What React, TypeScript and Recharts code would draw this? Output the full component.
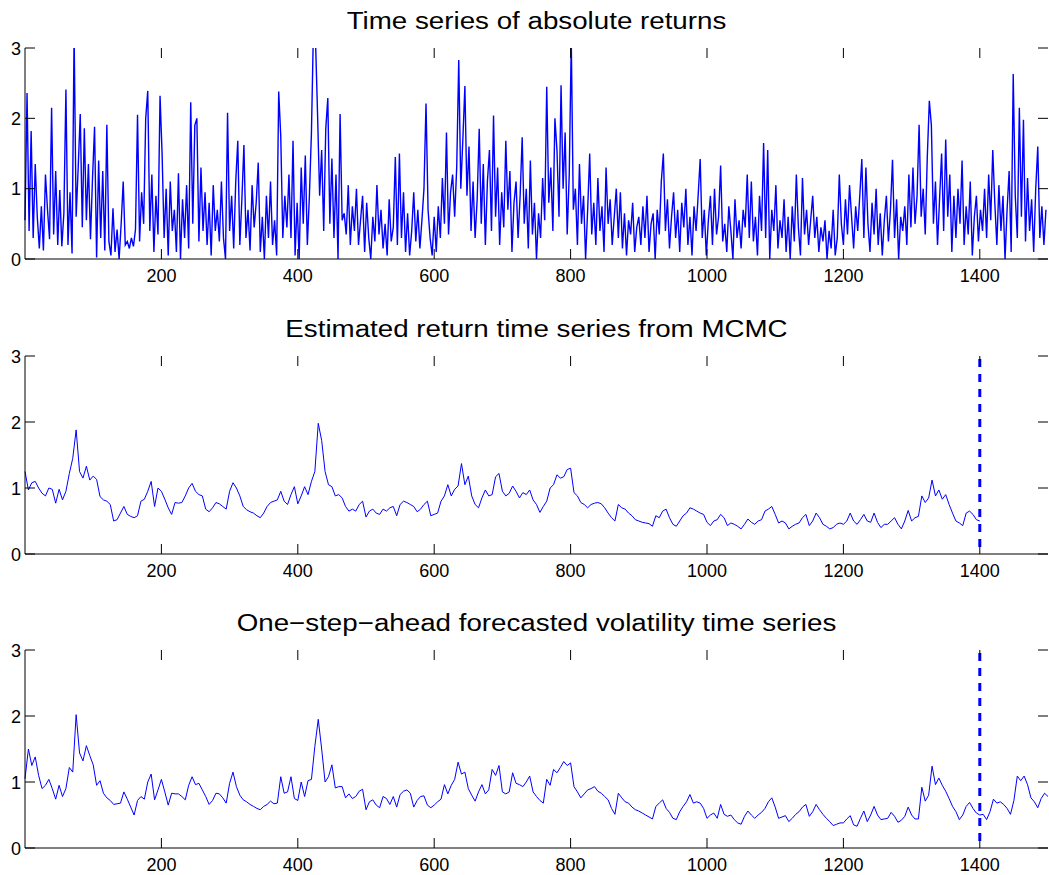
import { LineChart, Line, XAxis, YAxis, ReferenceLine } from "recharts";

// x positions of the samples (time index)
const ABS_STEP = 3;
const SMOOTH_STEP = 5;

const xTicks = [200, 400, 600, 800, 1000, 1200, 1400];
const yTicks = [0, 1, 2, 3];

const titles = [
  "Time series of absolute returns",
  "Estimated return time series from MCMC",
  "One\u2212step\u2212ahead forecasted volatility time series",
];

// |returns|, one value every 3 steps
const absReturns = [
  0.55, 2.36, 0.4, 1.82, 0.3, 1.35, 0.6, 0.15, 0.75, 0.12,
  1.2, 0.7, 0.28, 2.15, 0.35, 1.25, 0.2, 0.98, 0.18, 0.65,
  2.41, 0.2, 0.95, 0.08, 3.2, 0.6, 1.3, 2.06, 0.45, 1.86,
  0.55, 1.35, 0.28, 1.15, 1.88, 0.02, 1.4, 0.3, 1.25, 0.12,
  1.91, 0.25, 0.05, 0.72, 0.1, 0.42, 0.0, 0.5, 1.1, 0.2,
  0.25, 0.15, 0.3, 0.18, 0.42, 2.05, 0.25, 0.95, 0.5, 2.0,
  2.39, 0.4, 1.2, 0.1, 0.9, 0.35, 2.32, 1.5, 0.3, 1.0,
  0.05, 1.1, 0.4, 0.7, 0.1, 1.22, 0.0, 0.85, 0.3, 1.05,
  0.15, 2.23, 0.5, 1.9, 2.0, 0.25, 1.3, 0.4, 0.95, 0.2,
  0.8, 0.05, 1.05, 0.4, 0.7, 0.25, 1.1, 0.3, 0.0, 2.08,
  0.4, 0.9, 0.15, 1.1, 1.68, 0.2, 0.85, 1.62, 0.3, 0.7,
  0.12, 1.05, 0.45, 0.8, 1.37, 0.1, 0.6, 0.0, 0.9, 0.3,
  1.1, 0.2, 0.55, 0.05, 2.38, 1.75, 0.3, 0.9, 0.45, 1.2,
  0.3, 1.68, 0.05, 0.8, 0.0, 1.3, 0.5, 1.47, 0.2, 0.9,
  1.8, 3.3, 3.1, 2.05, 0.9, 1.55, 0.4, 1.85, 2.29, 0.5,
  1.43, 0.3, 1.2, 0.0, 2.06, 0.55, 0.65, 0.35, 1.05, 0.2,
  0.75, 0.4, 1.0, 0.2, 0.55, 0.9, 0.1, 0.8, 0.3, 0.0,
  0.6, 0.25, 1.05, 0.35, 0.7, 0.15, 0.5, 0.05, 0.85, 0.25,
  0.45, 1.45, 0.2, 1.5, 0.3, 0.95, 0.1, 0.65, 0.05, 0.4,
  0.95, 0.25, 0.7, 0.15, 0.55, 1.0, 2.21, 0.7, 0.3, 0.05,
  0.6, 0.1, 0.75, 0.3, 1.15, 0.5, 1.8, 0.35, 0.95, 1.2,
  0.6, 1.3, 2.83, 1.0, 1.7, 2.46, 0.9, 1.6, 0.4, 1.1,
  0.3, 0.85, 1.85, 0.5, 1.35, 0.2, 1.1, 1.55, 0.4, 2.04,
  0.6, 1.3, 0.2, 0.95, 0.45, 1.68, 0.7, 1.25, 0.1, 0.8,
  1.1, 0.3, 0.9, 1.73, 0.5, 1.0, 0.15, 1.4, 0.35, 0.8,
  0.0, 0.65, 0.3, 1.15, 0.55, 2.45, 0.8, 1.3, 0.4, 2.0,
  1.55, 0.6, 2.47, 1.0, 1.8, 0.35, 1.2, 3.1, 0.7, 1.0,
  0.2, 1.35, 0.5, 0.9, 0.0, 0.7, 1.5, 0.35, 0.8, 0.2,
  1.15, 0.4, 0.75, 0.1, 1.3, 0.5, 0.85, 0.2, 0.6, 1.0,
  0.3, 0.95, 0.15, 0.65, 0.05, 0.55, 0.35, 0.8, 0.1, 0.45,
  0.6, 0.2, 0.75, 0.3, 0.9, 0.1, 0.5, 0.65, 0.0, 0.7,
  0.35, 1.1, 1.5, 0.4, 0.85, 0.15, 0.6, 0.95, 0.3, 0.7,
  0.1, 0.8, 0.45, 1.0, 0.2, 0.6, 0.05, 0.75, 0.4, 0.9,
  1.42, 0.3, 0.7, 0.05, 0.55, 0.9, 0.2, 1.0, 0.35, 0.6,
  1.33, 0.25, 0.5, 0.1, 0.75, 0.4, 0.0, 0.85, 0.3, 0.55,
  0.15, 0.7, 0.45, 1.2, 0.3, 1.1, 0.25, 0.6, 0.05, 0.9,
  0.4, 1.65, 0.3, 1.55, 0.0, 0.7, 0.4, 1.05, 0.15, 0.55,
  0.3, 0.85, 0.1, 0.6, 0.0, 0.75, 0.25, 1.2, 0.45, 0.05,
  1.15, 0.35, 0.7, 0.2, 0.55, 0.9, 0.3, 0.6, 0.1, 0.45,
  0.25, 0.55, 0.0, 0.4, 0.15, 0.7, 0.05, 0.3, 1.2, 0.5,
  0.2, 0.85, 0.35, 1.05, 0.6, 0.15, 0.75, 0.4, 0.9, 1.42,
  0.3, 1.3, 0.5, 0.1, 0.8, 0.35, 1.0, 0.2, 0.65, 0.05,
  0.55, 0.9, 0.25, 0.7, 1.41, 0.3, 0.85, 0.0, 0.6, 0.4,
  0.75, 0.2, 1.2, 0.45, 1.3, 0.5, 0.9, 1.91, 0.6, 1.0,
  0.35, 1.45, 2.25, 1.9, 0.5, 1.1, 0.2, 0.85, 1.5, 0.4,
  1.7, 0.6, 1.2, 0.1, 0.9, 0.3, 1.0, 0.5, 1.4, 0.2,
  0.75, 0.35, 1.1, 0.05, 0.6, 0.9, 0.25, 0.7, 0.4, 1.0,
  0.3, 1.2, 0.55, 1.55, 0.8, 0.2, 1.05, 0.4, 0.9, 0.0,
  0.7, 1.25, 0.1, 2.63, 0.9, 0.3, 2.15, 0.6, 1.98, 0.25,
  1.15, 0.4, 0.85, 0.1, 1.0, 1.6, 0.3, 0.75, 0.2, 0.7,
];

// MCMC estimate, one value every 5 steps, 0..1400
const mcmcEstimate = [
  1.25, 0.97, 1.08, 1.1, 1.0, 0.92, 0.88, 1.0, 0.98, 0.77,
  0.98, 0.82, 0.95, 1.22, 1.45, 1.88, 1.25, 1.15, 1.33, 1.12,
  1.18, 1.13, 0.87, 0.82, 0.8, 0.75, 0.5, 0.52, 0.62, 0.72,
  0.6, 0.57, 0.55, 0.58, 0.8, 0.83, 0.95, 1.1, 0.72, 1.0,
  0.95, 0.83, 0.7, 0.6, 0.78, 0.77, 0.78, 0.88, 1.0, 1.07,
  0.95, 0.9, 0.88, 0.68, 0.64, 0.7, 0.78, 0.76, 0.72, 0.68,
  0.95, 1.08, 1.0, 0.88, 0.72, 0.67, 0.64, 0.62, 0.58, 0.55,
  0.62, 0.72, 0.78, 0.8, 0.82, 0.95, 0.8, 0.75, 0.9, 1.02,
  0.76, 0.88, 1.02, 0.9, 1.1, 1.25, 1.98, 1.72, 1.25, 1.05,
  1.02, 0.88, 0.9, 0.85, 0.72, 0.65, 0.68, 0.65, 0.75, 0.8,
  0.56, 0.65, 0.68, 0.62, 0.6, 0.68, 0.65, 0.7, 0.72, 0.58,
  0.75, 0.8, 0.78, 0.75, 0.72, 0.64, 0.68, 0.75, 0.8, 0.58,
  0.6, 0.62, 0.8, 0.88, 1.05, 0.88, 0.98, 1.03, 1.37, 1.05,
  1.18, 0.88, 0.75, 0.7, 0.85, 0.97, 0.88, 0.9, 1.17, 1.22,
  0.95, 0.88, 0.92, 1.03, 0.95, 0.85, 0.93, 0.9, 0.97, 0.82,
  0.75, 0.63, 0.72, 0.8, 1.0, 1.05, 1.2, 1.15, 1.17, 1.28,
  1.3, 0.93, 0.88, 0.78, 0.75, 0.7, 0.75, 0.77, 0.78, 0.76,
  0.7, 0.62, 0.55, 0.5, 0.75, 0.7, 0.68, 0.62, 0.58, 0.52,
  0.5, 0.48, 0.47, 0.46, 0.42, 0.58, 0.55, 0.65, 0.68, 0.55,
  0.45, 0.42, 0.5, 0.58, 0.62, 0.7, 0.68, 0.65, 0.62, 0.6,
  0.48, 0.43, 0.5, 0.52, 0.6, 0.55, 0.43, 0.47, 0.45, 0.42,
  0.38, 0.45, 0.53, 0.48, 0.45, 0.5, 0.52, 0.65, 0.68, 0.72,
  0.6, 0.47, 0.5, 0.47, 0.38, 0.42, 0.45, 0.47, 0.55, 0.6,
  0.43, 0.5, 0.62, 0.55, 0.45, 0.42, 0.38, 0.4, 0.45, 0.47,
  0.45, 0.5, 0.62, 0.5, 0.45, 0.52, 0.6, 0.5, 0.48, 0.62,
  0.48, 0.4, 0.45, 0.45, 0.5, 0.55, 0.45, 0.38, 0.5, 0.66,
  0.5, 0.55, 0.57, 0.88, 0.78, 0.85, 1.12, 0.88, 0.97, 0.83,
  0.9, 0.75, 0.62, 0.5, 0.47, 0.43, 0.62, 0.65, 0.6, 0.52,
  0.5,
];

// one-step-ahead forecast, one value every 5 steps, 0..1500
const forecastVol = [
  1.05, 1.5, 1.25, 1.38, 1.1, 0.9, 0.95, 1.04, 0.9, 0.74,
  0.95, 0.78, 0.9, 1.22, 1.15, 2.02, 1.44, 1.32, 1.55, 1.4,
  1.26, 0.95, 1.02, 0.83, 0.76, 0.72, 0.66, 0.67, 0.68, 0.85,
  0.74, 0.62, 0.5, 0.72, 0.78, 0.74, 1.0, 1.12, 0.73, 0.88,
  1.04, 0.85, 0.65, 0.83, 0.82, 0.82, 0.78, 0.73, 0.95, 1.08,
  0.96, 0.98, 0.88, 0.78, 0.66, 0.72, 0.83, 0.82, 0.76, 0.68,
  0.98, 1.15, 0.93, 0.8, 0.73, 0.7, 0.66, 0.63, 0.6, 0.58,
  0.63, 0.66, 0.71, 0.67, 0.68, 1.08, 0.83, 0.85, 1.08, 0.75,
  0.72, 1.0, 0.78, 1.02, 1.04, 1.54, 1.95, 1.5, 1.0, 1.08,
  1.26, 0.91, 0.93, 0.93, 0.76, 0.82, 0.75, 0.78, 0.86, 0.89,
  0.58, 0.7, 0.73, 0.65, 0.61, 0.78, 0.75, 0.66, 0.78, 0.62,
  0.81, 0.86, 0.88, 0.83, 0.62, 0.72, 0.78, 0.79, 0.65, 0.61,
  0.65, 0.7, 0.74, 0.96, 0.82, 0.95, 1.04, 1.3, 1.12, 1.15,
  0.9, 0.8, 0.71, 0.85, 0.96, 0.82, 0.88, 1.19, 1.1, 1.25,
  0.85, 0.82, 0.85, 1.14, 0.98, 0.96, 0.93, 1.0, 1.09, 0.85,
  0.78, 0.72, 0.68, 1.04, 0.95, 1.19, 1.14, 1.22, 1.31, 1.25,
  1.29, 0.93, 0.85, 0.76, 0.82, 0.88, 0.9, 0.93, 0.86, 0.83,
  0.78, 0.73, 0.6, 0.51, 0.83, 0.76, 0.7, 0.68, 0.62, 0.58,
  0.56, 0.53, 0.5, 0.47, 0.44, 0.63, 0.68, 0.73, 0.6, 0.54,
  0.45, 0.43, 0.55, 0.63, 0.7, 0.81, 0.68, 0.7, 0.68, 0.6,
  0.45, 0.5, 0.53, 0.45, 0.66, 0.51, 0.48, 0.5, 0.43, 0.38,
  0.36, 0.48, 0.56, 0.5, 0.45, 0.5, 0.54, 0.6, 0.7, 0.76,
  0.62, 0.45, 0.47, 0.49, 0.4, 0.45, 0.51, 0.55, 0.62, 0.66,
  0.48, 0.55, 0.66, 0.58, 0.51, 0.45, 0.4, 0.34, 0.36, 0.38,
  0.38, 0.44, 0.49, 0.35, 0.33, 0.45, 0.56, 0.4, 0.5, 0.63,
  0.5, 0.43, 0.44, 0.45, 0.54, 0.48, 0.39, 0.42, 0.48, 0.62,
  0.5, 0.44, 0.44, 0.92, 0.71, 0.8, 1.24, 0.96, 1.06, 0.95,
  0.86, 0.75, 0.63, 0.55, 0.43, 0.5, 0.63, 0.69, 0.6, 0.53,
  0.5, 0.51, 0.43, 0.55, 0.74, 0.68, 0.7, 0.66, 0.6, 0.51,
  0.72, 1.09, 1.02, 1.09, 0.96, 0.76, 0.7, 0.61, 0.75, 0.83,
  0.78,
];

const FONT = "'Liberation Sans', Arial, Helvetica, sans-serif";
const BLUE = "#0000ff";
const TICK_LEN = 10;
const PLOT_LEFT = 25;
const PLOT_RIGHT = 1048;

const toRows = (vals: number[], step: number) => vals.map((v, i) => ({ x: i * step, y: v }));

// bottom tick: inward tick on bottom and top edge + label
const makeBottomTick = (plotTop: number, plotBottom: number) => (props: any) => {
  const { x, payload } = props;
  return (
    <g key={`bt-${payload.value}`}>
      <line x1={x} x2={x} y1={plotBottom} y2={plotBottom - TICK_LEN} stroke="#000" />
      <line x1={x} x2={x} y1={plotTop} y2={plotTop + TICK_LEN} stroke="#000" />
      <text x={x} y={plotBottom + 23} textAnchor="middle" fontSize={18} fontFamily={FONT} fill="#000">
        {payload.value}
      </text>
    </g>
  );
};

// left tick: inward tick on left and right edge + label
const LeftTick = (props: any) => {
  const { y, payload } = props;
  return (
    <g key={`lt-${payload.value}`}>
      <line x1={PLOT_LEFT} x2={PLOT_LEFT + TICK_LEN} y1={y} y2={y} stroke="#000" />
      <line x1={PLOT_RIGHT} x2={PLOT_RIGHT - TICK_LEN} y1={y} y2={y} stroke="#000" />
      <text x={PLOT_LEFT - 4} y={y + 6.5} textAnchor="end" fontSize={18} fontFamily={FONT} fill="#000">
        {payload.value}
      </text>
    </g>
  );
};

type PanelProps = {
  title: string;
  data: { x: number; y: number }[];
  top: number;
  height: number;
  marginTop: number;
  axisHeight: number;
  lineWidth: number;
  splitAt?: number;
};

function Panel({ title, data, top, height, marginTop, axisHeight, lineWidth, splitAt }: PanelProps) {
  const plotBottom = height - axisHeight;
  return (
    <div style={{ position: "absolute", left: 0, top, width: 1049, height }}>
      <div
        style={{
          position: "absolute",
          left: PLOT_LEFT,
          width: PLOT_RIGHT - PLOT_LEFT,
          top: marginTop - 42,
          textAlign: "center",
          fontFamily: FONT,
          fontSize: 23.5,
          lineHeight: "30px",
          color: "#000",
          whiteSpace: "nowrap",
          transform: "scaleX(1.18)",
          transformOrigin: "center",
        }}
      >
        {title}
      </div>
      <LineChart
        width={1049}
        height={height}
        data={data}
        margin={{ top: marginTop, right: 1, left: 0, bottom: 0 }}
      >
        <XAxis
          dataKey="x"
          type="number"
          domain={[0, 1500]}
          ticks={xTicks}
          height={axisHeight}
          tickLine={false}
          tickSize={0}
          tickMargin={0}
          axisLine={{ stroke: "#000" }}
          tick={makeBottomTick(marginTop, plotBottom)}
        />
        <XAxis
          xAxisId="t"
          orientation="top"
          dataKey="x"
          type="number"
          domain={[0, 1500]}
          height={0}
          tick={false}
          tickLine={false}
          axisLine={{ stroke: "#000" }}
        />
        <YAxis
          type="number"
          domain={[0, 3]}
          ticks={yTicks}
          allowDataOverflow
          width={PLOT_LEFT}
          tickLine={false}
          tickSize={0}
          tickMargin={0}
          axisLine={{ stroke: "#000" }}
          tick={LeftTick}
        />
        <YAxis
          yAxisId="r"
          orientation="right"
          type="number"
          domain={[0, 3]}
          width={0}
          tick={false}
          tickLine={false}
          axisLine={{ stroke: "#000" }}
        />
        <Line
          type="linear"
          dataKey="y"
          stroke={BLUE}
          strokeWidth={lineWidth}
          dot={false}
          isAnimationActive={false}
        />
        {splitAt !== undefined && (
          <ReferenceLine
            x={splitAt}
            stroke={BLUE}
            strokeWidth={3}
            strokeDasharray="8 7"
            strokeDashoffset={8}
          />
        )}
      </LineChart>
    </div>
  );
}

export default function App() {
  return (
    <div style={{ position: "relative", width: 1049, height: 875, overflow: "hidden", background: "#fff" }}>
      <style>{"body{margin:0}"}</style>
      <Panel
        title={titles[0]}
        data={toRows(absReturns, ABS_STEP)}
        top={0}
        height={295}
        marginTop={48}
        axisHeight={36}
        lineWidth={1.4}
      />
      <Panel
        title={titles[1]}
        data={toRows(mcmcEstimate, SMOOTH_STEP)}
        top={300}
        height={290}
        marginTop={56}
        axisHeight={36}
        lineWidth={1}
        splitAt={1400}
      />
      <Panel
        title={titles[2]}
        data={toRows(forecastVol, SMOOTH_STEP)}
        top={595}
        height={280}
        marginTop={55}
        axisHeight={27}
        lineWidth={1}
        splitAt={1400}
      />
    </div>
  );
}
